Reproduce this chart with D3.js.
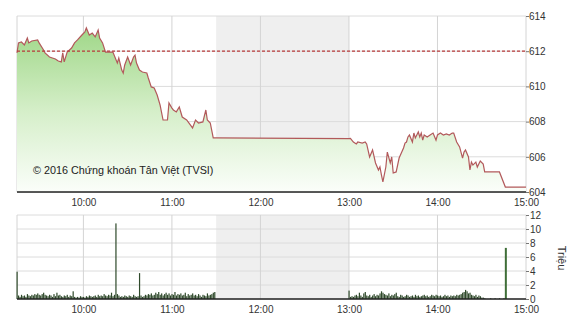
<!DOCTYPE html>
<html>
<head>
<meta charset="utf-8">
<script src="https://cdn.jsdelivr.net/npm/d3@7"></script>
<style>
  body { margin: 0; background: #fff; }
  text { font-family: Arial, "Liberation Sans", sans-serif; }
</style>
</head>
<body>
<div id="chart"></div>
<script>
// intraday index (price panel) + matched volume (volume panel)
const priceTimes = ["9:15","9:16","9:18","9:20","9:22","9:23","9:25","9:29","9:30","9:33","9:34","9:37","9:41","9:43","9:45","9:46","9:47","9:49","9:52","9:54","9:56","9:59","10:01","10:02","10:04","10:06","10:08","10:10","10:11","10:13","10:15","10:18","10:20",
  "10:23","10:24","10:26","10:27","10:28","10:30","10:32","10:34","10:35","10:36","10:38","10:40","10:43","10:44","10:46","10:48","10:50","10:52","10:54","10:57","10:58","11:00","11:01","11:03","11:05","11:07","11:10","11:14","11:16","11:18","11:21","11:23","11:24","11:26","11:28","11:30",
  "13:00","13:01","13:03","13:05","13:06","13:09","13:11","13:12","13:14","13:16","13:18","13:20","13:21","13:22","13:23","13:25","13:26","13:28","13:29","13:30","13:32","13:34","13:37","13:38","13:39","13:40","13:41","13:43","13:44","13:45","13:47","13:48","13:49","13:50","13:51","13:53",
  "13:55","13:57","13:59","14:00","14:02","14:04","14:06","14:08","14:10","14:11","14:13","14:15","14:17","14:18","14:19","14:21","14:22","14:23","14:24","14:26","14:27","14:29","14:31","14:32","14:42","14:46","15:00"];
const priceValues = [611.90,612.47,612.52,612.35,612.75,612.47,612.58,612.64,612.47,612.07,611.90,611.67,611.56,611.44,611.39,611.90,611.39,611.95,612.18,612.47,612.64,612.92,613.09,613.32,612.92,613.03,612.81,613.20,612.75,612.47,611.95,611.95,611.95,
  611.33,611.61,610.93,610.76,611.22,611.67,611.22,611.67,611.78,611.33,610.93,610.82,610.76,610.48,609.97,609.91,609.51,608.94,608.09,608.09,609.06,608.77,608.66,608.55,608.83,608.26,608.09,607.64,608.09,607.92,607.98,608.66,608.09,607.92,607.07,607.07,
  607.03,607.05,606.84,606.73,606.84,606.78,606.84,606.73,605.99,606.39,605.65,605.25,605.42,604.97,604.57,605.42,606.27,605.65,605.99,605.08,605.14,605.93,606.50,606.78,606.84,607.13,607.24,606.84,607.35,607.07,607.41,607.13,607.35,606.95,607.24,607.13,
  607.24,607.35,606.95,607.24,607.35,607.24,607.30,607.24,607.35,607.35,606.84,606.56,605.93,606.27,606.39,605.99,605.25,605.70,605.53,605.70,605.42,605.76,605.59,605.14,605.14,604.28,604.28];
const refPrice = 612;

// volume in millions, one bar per minute
const volMorningStart = "9:15";
const volMorning = [3.9,
  0.5,0.3,0.6,0.4,0.5,0.3,0.7,0.5,0.4,0.6,
  0.5,0.7,0.6,0.8,0.6,0.5,0.7,0.9,0.6,0.5,
  0.4,0.6,0.5,0.3,0.7,0.4,0.9,0.5,0.6,0.4,
  0.3,0.5,0.4,0.6,0.3,0.5,0.4,1.1,0.3,0.2,
  0.3,0.2,0.4,0.3,0.3,0.2,0.4,0.3,0.5,0.4,
  0.3,0.4,0.5,0.3,0.6,0.4,0.5,0.4,0.7,0.5,
  0.4,0.6,0.5,0.9,0.4,0.6,10.8,0.7,0.5,0.3,
  0.4,0.3,0.5,0.4,0.3,0.5,0.4,0.3,0.6,0.4,
  0.3,0.4,3.7,0.5,0.3,0.4,0.6,0.5,0.7,0.6,
  0.8,0.5,0.6,0.9,0.7,1.0,0.6,0.8,0.5,0.7,
  0.9,0.6,0.8,0.5,0.7,0.6,1.0,0.5,0.7,0.6,
  0.8,0.5,0.6,0.9,0.4,0.7,0.5,0.6,0.8,0.5,
  0.6,0.4,0.7,0.5,0.3,0.6,0.5,0.4,0.8,0.5,
  0.6,0.7,0.9,1.0];
const volAfternoonStart = "13:00";
const volAfternoon = [1.2,
  0.3,0.4,0.3,0.5,0.6,0.4,0.9,0.5,0.3,0.8,
  1.0,0.5,0.4,0.6,0.3,0.5,0.7,0.4,0.6,0.5,
  0.8,1.1,0.9,0.7,0.6,0.5,0.8,0.4,0.6,0.5,
  0.7,0.9,0.4,0.3,0.6,0.5,0.3,0.4,0.6,0.5,
  0.3,0.4,0.5,0.3,0.6,0.4,0.5,0.3,0.4,0.5,
  0.6,0.4,0.5,0.3,0.4,0.6,0.5,0.4,0.6,0.5,
  0.4,0.5,0.3,0.4,0.6,0.4,0.5,0.3,0.5,0.4,
  0.5,0.4,0.6,0.5,0.6,0.7,0.9,1.0,1.3,1.1,
  0.8,0.9,0.6,0.5,0.4,0.6,0.3,0.5,0.4,0.2,
  0.2,0.1,0,0,0,0.1,0,0,0.1,0,
  0,0.1,0,0,0.1,7.3];

const priceTicks = [604,606,608,610,612,614];
const volTicks = [0,2,4,6,8,10,12];
const hourTicks = ["10:00","11:00","12:00","13:00","14:00","15:00"];
const lunch = ["11:30","13:00"];

const parse = d3.timeParse("%H:%M");
const fmt = d3.timeFormat("%H:%M");

const width = 570, height = 320;
const left = 17, right = 526;
const pTop = 16, pBottom = 192;
const vTop = 215, vBottom = 299;

const svg = d3.select("#chart").append("svg")
    .attr("width", width)
    .attr("height", height);

const x = d3.scaleTime()
    .domain([parse("9:15"), parse("15:00")])
    .range([left, right]);
const yP = d3.scaleLinear().domain([604, 614]).range([pBottom, pTop]);
const yV = d3.scaleLinear().domain([0, 12]).range([vBottom, vTop]);

const price = priceTimes.map((t, i) => ({ t: parse(t), v: priceValues[i] }));
const vol = volMorning.map((v, i) => ({ t: d3.timeMinute.offset(parse(volMorningStart), i), v: v }))
  .concat(volAfternoon.map((v, i) => ({ t: d3.timeMinute.offset(parse(volAfternoonStart), i), v: v })));

const grad = svg.append("defs").append("linearGradient")
    .attr("id", "fillGrad")
    .attr("gradientUnits", "userSpaceOnUse")
    .attr("x1", 0).attr("x2", 0)
    .attr("y1", pTop).attr("y2", pBottom);
grad.append("stop").attr("offset", "0%").attr("stop-color", "#98d47f");
grad.append("stop").attr("offset", "55%").attr("stop-color", "#d6efca");
grad.append("stop").attr("offset", "100%").attr("stop-color", "#fbfefa");

function panel(top, bottom, yScale, ticks) {
  const g = svg.append("g");
  // lunch break shading
  g.append("rect")
    .attr("x", x(parse(lunch[0])))
    .attr("y", top)
    .attr("width", x(parse(lunch[1])) - x(parse(lunch[0])))
    .attr("height", bottom - top)
    .attr("fill", "#efefef");
  g.selectAll(".hgrid").data(ticks).enter().append("line")
    .attr("x1", left).attr("x2", right)
    .attr("y1", d => yScale(d)).attr("y2", d => yScale(d))
    .attr("stroke", "#dcdcdc");
  g.selectAll(".vgrid").data(hourTicks.slice(0, -1)).enter().append("line")
    .attr("x1", d => x(parse(d))).attr("x2", d => x(parse(d)))
    .attr("y1", top).attr("y2", bottom)
    .attr("stroke", "#d4d4d4");
  g.append("line").attr("x1", left).attr("x2", left).attr("y1", top).attr("y2", bottom).attr("stroke", "#d4d4d4");
  g.append("line").attr("x1", right).attr("x2", right).attr("y1", top).attr("y2", bottom).attr("stroke", "#d4d4d4");
  return g;
}

panel(pTop, pBottom, yP, priceTicks);
panel(vTop, vBottom, yV, volTicks);

// price area + line
svg.append("path")
    .datum(price)
    .attr("fill", "url(#fillGrad)")
    .attr("d", d3.area().x(d => x(d.t)).y0(pBottom).y1(d => yP(d.v)));

svg.append("path")
    .datum(price)
    .attr("fill", "none")
    .attr("stroke", "#b2595b")
    .attr("stroke-width", 1.2)
    .attr("d", d3.line().x(d => x(d.t)).y(d => yP(d.v)));

svg.append("line")
    .attr("x1", left).attr("x2", right)
    .attr("y1", yP(refPrice)).attr("y2", yP(refPrice))
    .attr("stroke", "#b83a3a")
    .attr("stroke-width", 1.3)
    .attr("stroke-dasharray", "3,2");

// volume bars
svg.selectAll(".bar").data(vol.filter(d => d.v > 0)).enter().append("rect")
    .attr("class", "bar")
    .attr("x", d => x(d.t) - 0.5)
    .attr("width", d => d.v > 5 && d.t > parse("14:00") ? 2 : 1.2)
    .attr("y", d => yV(d.v))
    .attr("height", d => vBottom - yV(d.v))
    .attr("fill", d => d.v > 5 && d.t > parse("14:00") ? "#3f6e38" : "#2f4a2b");

// axes
function styleAxis(g) {
  g.select(".domain").remove();
  g.selectAll("text").attr("fill", "#333").style("font-size", "10px");
  g.selectAll(".tick line").attr("stroke", "#777");
}

const xAxis = d3.axisBottom(x)
    .tickValues(hourTicks.map(parse))
    .tickFormat(fmt)
    .tickSize(0)
    .tickPadding(7);

svg.append("g").attr("transform", `translate(0,${pBottom})`).call(xAxis).call(styleAxis);
svg.append("g").attr("transform", `translate(0,${vBottom})`).call(xAxis).call(styleAxis);

svg.append("g").attr("transform", `translate(${right},0)`)
    .call(d3.axisRight(yP).tickValues(priceTicks).tickSize(3).tickPadding(0).tickFormat(d3.format("d")))
    .call(styleAxis);
svg.append("g").attr("transform", `translate(${right},0)`)
    .call(d3.axisRight(yV).tickValues(volTicks).tickSize(3).tickPadding(1).tickFormat(d3.format("d")))
    .call(styleAxis);

// baselines
svg.append("line").attr("x1", left).attr("x2", right).attr("y1", pBottom).attr("y2", pBottom)
    .attr("stroke", "#222").attr("stroke-width", 1.5);
svg.append("line").attr("x1", left).attr("x2", right).attr("y1", vBottom).attr("y2", vBottom)
    .attr("stroke", "#222").attr("stroke-width", 1.5);

svg.append("text")
    .attr("x", 33).attr("y", 174)
    .attr("fill", "#222")
    .style("font-size", "10.8px")
    .text("© 2016 Chứng khoán Tân Việt (TVSI)");

svg.append("text")
    .attr("transform", "translate(558,258) rotate(90)")
    .attr("text-anchor", "middle")
    .attr("fill", "#333")
    .style("font-size", "11px")
    .text("Triệu");
</script>
</body>
</html>
